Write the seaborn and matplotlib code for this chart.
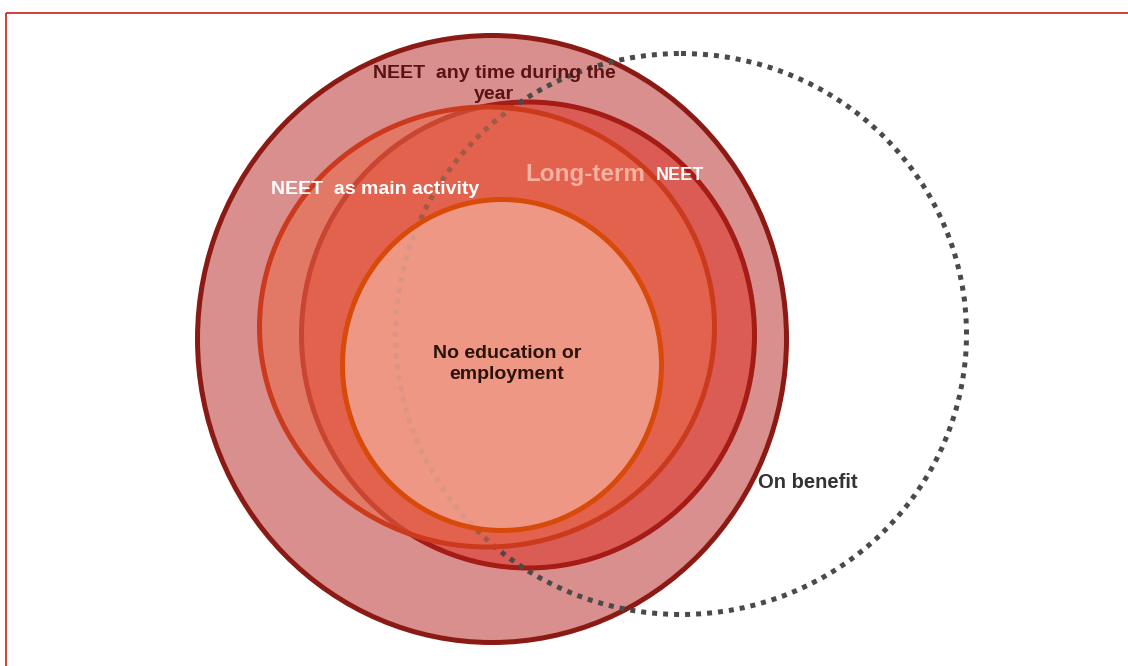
import matplotlib
matplotlib.use('Agg')
import matplotlib.pyplot as plt
from matplotlib.patches import Ellipse, Rectangle
import seaborn as sns

sns.set_theme(style="white")
plt.rcParams['font.family'] = ['Liberation Sans', 'DejaVu Sans']

# sets, drawn bottom to top (pixel units of the 1128x666 canvas)
sets = ["NEET any time during the year", "Long-term NEET", "On benefit",
        "NEET as main activity", "No education or employment"]
center_x = [492, 528, 681, 487, 502]
center_y = [339, 335, 334, 327, 365]
width = [589, 453, 571, 455, 319]
height = [607, 466, 561, 440, 331]

faces = [(217/255, 143/255, 141/255, 1.0),
         (221/255, 70/255, 62/255, 0.7),
         (1, 1, 1, 0.0),
         (234/255, 104/255, 72/255, 0.54),
         (243/255, 175/255, 158/255, 0.7)]
edges = sns.color_palette(["#8C1A14", "#A51C17", "#4A4A4A", "#CC3A1E", "#D84A0A"])

fig = plt.figure(figsize=(11.28, 6.66), dpi=100)
ax = fig.add_axes([0, 0, 1, 1])
ax.set_xlim(0, 1128)
ax.set_ylim(666, 0)
ax.axis('off')

# frame (only top/left visible in the original crop)
ax.add_patch(Rectangle((6, 13), 1300, 800, fill=False, edgecolor="#C8342C", lw=1.3))

for i, name in enumerate(sets):
    e = Ellipse((center_x[i], center_y[i]), width[i], height[i],
                facecolor=faces[i], edgecolor=edges[i], lw=3.6, zorder=2 + i)
    if name == "On benefit":
        e.set_linestyle((0, (1, 1.2)))
        e.set_capstyle('butt')
        e.set_fill(False)
    ax.add_patch(e)

kw = dict(ha='center', va='center', fontweight='bold', zorder=10)
ax.text(494, 84, "NEET  any time during the\nyear", color="#5A1212", fontsize=14,
        linespacing=1.3, **kw)
ax.text(375, 189, "NEET  as main activity", color="white", fontsize=14, **kw)
ax.text(585, 174, "Long-term", color="#F4B0A0", fontsize=17.5, **kw)
ax.text(680, 176, "NEET", color="white", fontsize=13, **kw)
ax.text(507, 364, "No education or\nemployment", color="#2B120A", fontsize=14,
        linespacing=1.3, **kw)
ax.text(808, 482, "On benefit", color="#333333", fontsize=14.5, **kw)

fig.savefig("out.png", dpi=100, facecolor="white")
